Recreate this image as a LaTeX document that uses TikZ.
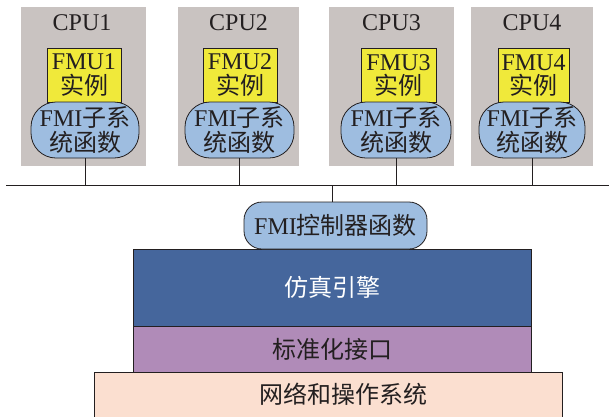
\documentclass[tikz,border=0pt]{standalone}
\usepackage{fontspec}
\setmainfont{Liberation Serif}
\newfontfamily\cjk{Noto Sans CJK SC}
\definecolor{cpugray}{RGB}{201,195,193}
\definecolor{fmuyellow}{RGB}{240,233,58}
\definecolor{fmiblue}{RGB}{158,189,224}
\definecolor{engineblue}{RGB}{69,102,156}
\definecolor{ifpurple}{RGB}{176,139,184}
\definecolor{netpeach}{RGB}{251,223,208}
\definecolor{edge}{RGB}{35,31,32}
\begin{document}
\begin{tikzpicture}[x=1pt,y=-1pt,
  every node/.style={inner sep=0pt, outer sep=0pt, align=center, font=\fontsize{24}{24.5}\selectfont, text=edge},
  cpu/.style={fill=cpugray, minimum height=159pt},
  fmu/.style={fill=fmuyellow, draw=edge, line width=0.8pt, minimum height=54pt},
  fmi/.style={fill=fmiblue, draw=edge, line width=0.8pt, rounded corners=25pt, minimum height=56pt},
  layer/.style={draw=edge, line width=0.8pt, minimum width=398pt},
  wire/.style={draw=edge, line width=0.9pt}]
\useasboundingbox (0,0) rectangle (609,416);
% CPU boxes
\node[cpu, minimum width=125pt] (c1) at (83.5,86.5) {};
\node[cpu, minimum width=121pt] (c2) at (238.5,86.5) {};
\node[cpu, minimum width=125pt] (c3) at (391.5,86.5) {};
\node[cpu, minimum width=122pt] (c4) at (532,86.5) {};
\node (t1) at (82,23) {CPU1};
\node (t2) at (238.5,23) {CPU2};
\node (t3) at (391.5,23) {CPU3};
\node (t4) at (532,23) {CPU4};
% FMU instances
\node[fmu, minimum width=74pt] (f1) at (84,75) {FMU1\\{\cjk 实例}};
\node[fmu, minimum width=74pt] (f2) at (240,75) {FMU2\\{\cjk 实例}};
\node[fmu, minimum width=75pt] (f3) at (398.5,75.5) {FMU3\\{\cjk 实例}};
\node[fmu, minimum width=71pt] (f4) at (533.5,75.5) {FMU4\\{\cjk 实例}};
% FMI subsystem functions
\node[fmi, minimum width=108pt] (s1) at (85,130) {FMI{\cjk 子系}\\{\cjk 统函数}};
\node[fmi, minimum width=109pt] (s2) at (239.5,130) {FMI{\cjk 子系}\\{\cjk 统函数}};
\node[fmi, minimum width=110pt] (s3) at (396,130) {FMI{\cjk 子系}\\{\cjk 统函数}};
\node[fmi, minimum width=106pt] (s4) at (532,130) {FMI{\cjk 子系}\\{\cjk 统函数}};
% bus
\coordinate (busL) at (6,185);
\coordinate (busR) at (609,185);
\draw[wire] (busL) -- (busR);
\foreach \i in {1,2,3,4} {
  \draw[wire] (s\i.south) -- (s\i.south |- busL);
}
% stack
\node[layer, fill=netpeach, minimum width=468pt, minimum height=48pt] (net) at (328,396) {};
\node (nettxt) at (343,394) {\cjk 网络和操作系统};
\node[layer, fill=ifpurple, minimum height=46pt] (iface) at (332,349) {\cjk 标准化接口};
\node[layer, fill=engineblue, minimum height=77pt, text=white] (eng) at (332,287.5) {\cjk 仿真引擎};
\node[fmi, rounded corners=18pt, minimum width=183pt, minimum height=47pt] (ctrl) at (335.5,225.5) {FMI{\cjk 控制器函数}};
\coordinate (tap) at (332,202);
\draw[wire] (tap) -- (tap |- busL);
\end{tikzpicture}
\end{document}
